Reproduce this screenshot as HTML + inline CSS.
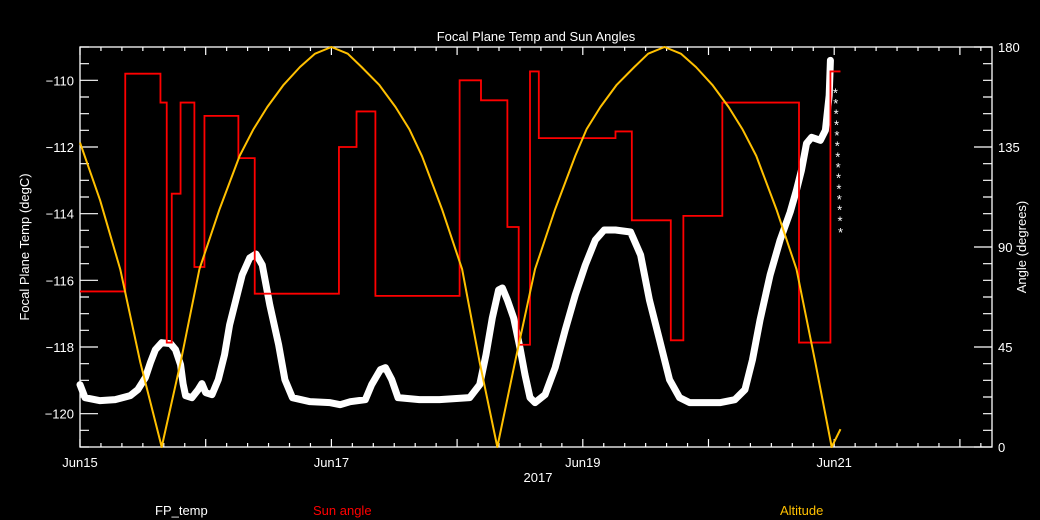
<!DOCTYPE html>
<html><head><meta charset="utf-8">
<style>
html,body{margin:0;padding:0;background:#000;}
svg{display:block;}
text{font-family:"Liberation Sans","DejaVu Sans",sans-serif;font-size:13px;}
</style></head>
<body>
<svg id="chart" width="1040" height="520" viewBox="0 0 1040 520" xmlns="http://www.w3.org/2000/svg">
<rect x="0" y="0" width="1040" height="520" fill="#000"/>
<text x="536" y="41" fill="#fff" text-anchor="middle">Focal Plane Temp and Sun Angles</text>
<text transform="translate(29,247) rotate(-90)" fill="#fff" text-anchor="middle">Focal Plane Temp (degC)</text>
<text transform="translate(1026,247) rotate(-90)" fill="#fff" text-anchor="middle">Angle (degrees)</text>
<text x="538" y="482" fill="#fff" text-anchor="middle">2017</text>
<text x="155" y="515" fill="#fff">FP_temp</text>
<text x="313" y="515" fill="#ff0000">Sun angle</text>
<text x="780" y="515" fill="#ffc000">Altitude</text>
<g id="axes"></g>
<g id="series"></g>
</svg>
<script>
// ---- data ----
const xTickLabels = ["Jun15","Jun17","Jun19","Jun21"];
const xTickDays = [0,2,4,6];
const leftTicks = [-120,-118,-116,-114,-112,-110];
const rightTicks = [0,45,90,135,180];
const altDays = [0,0.16,0.32,0.48,0.65,0.80,0.95,1.11,1.27,1.38,1.49,1.62,1.75,1.87,2.0,2.13,2.24,2.38,2.51,2.62,2.72,2.88,3.04,3.18,3.32,3.46,3.62,3.78,3.94,4.03,4.14,4.27,4.41,4.52,4.65,4.78,4.90,5.03,5.16,5.27,5.38,5.54,5.70,5.85,5.98,6.05];
const altValues = [137,111,80,38,0,38,80,107,131,143,153,163,171,177,180,177,171,163,153,143,131,107,80,38,0,38,80,107,131,143,153,163,171,177,180,177,171,163,153,143,131,107,80,38,0,8];
const sunDays = [0,0.36,0.64,0.69,0.73,0.80,0.91,0.99,1.26,1.39,2.06,2.20,2.35,3.02,3.19,3.40,3.49,3.58,3.65,4.26,4.39,4.70,4.80,5.11,5.72,5.97,6.05];
const sunValues = [70,168,155,47,114,155,81,149,130,69,135,151,68,165,156,99,46,169,139,142,102,48,104,155,47,169,169];
const tempDays = [0,0.04,0.16,0.28,0.40,0.46,0.52,0.56,0.60,0.65,0.72,0.76,0.80,0.82,0.84,0.89,0.94,0.97,1.00,1.05,1.10,1.15,1.19,1.24,1.29,1.35,1.40,1.45,1.51,1.58,1.63,1.69,1.83,1.99,2.07,2.15,2.27,2.32,2.39,2.43,2.48,2.53,2.70,2.86,3.10,3.18,3.23,3.28,3.33,3.36,3.40,3.45,3.50,3.54,3.58,3.62,3.70,3.78,3.86,3.94,4.02,4.10,4.17,4.26,4.38,4.46,4.53,4.61,4.69,4.77,4.85,5.09,5.21,5.29,5.35,5.41,5.49,5.57,5.65,5.70,5.74,5.78,5.82,5.89,5.93,5.96,5.97];
const tempValues = [-119.13,-119.52,-119.61,-119.58,-119.46,-119.28,-118.92,-118.47,-118.08,-117.87,-117.90,-118.08,-118.53,-119.10,-119.46,-119.52,-119.28,-119.10,-119.37,-119.43,-118.98,-118.23,-117.34,-116.59,-115.84,-115.33,-115.21,-115.54,-116.74,-117.93,-118.98,-119.52,-119.64,-119.67,-119.73,-119.64,-119.58,-119.13,-118.68,-118.62,-118.98,-119.52,-119.58,-119.58,-119.52,-119.13,-118.23,-117.13,-116.29,-116.23,-116.59,-117.13,-118.02,-118.83,-119.52,-119.67,-119.43,-118.62,-117.49,-116.44,-115.54,-114.79,-114.49,-114.49,-114.55,-115.24,-116.59,-117.78,-118.98,-119.52,-119.67,-119.67,-119.58,-119.28,-118.38,-117.19,-115.84,-114.79,-113.95,-113.29,-112.69,-111.89,-111.71,-111.80,-111.50,-110.45,-109.40];
const starDays = [6.01,6.013,6.016,6.019,6.022,6.025,6.028,6.031,6.034,6.037,6.04,6.043,6.046,6.05];
const starTemps = [-110.36,-110.68,-111.0,-111.32,-111.64,-111.96,-112.28,-112.6,-112.92,-113.24,-113.56,-113.88,-114.2,-114.55];

// ---- axes ----
const X0=80,X1=992,Y0=47,Y1=447,DAYSPAN=(992-80)/125.7;
const sx=d=>X0+d*(X1-X0)/DAYSPAN;
const syL=t=>Y1-(t+121)*(Y1-Y0)/12;
const syR=a=>Y1-a*(Y1-Y0)/180;
const NS="http://www.w3.org/2000/svg";
const axes=document.getElementById('axes'), series=document.getElementById('series');
function mk(tag,attrs,parent){const e=document.createElementNS(NS,tag);for(const k in attrs)e.setAttribute(k,attrs[k]);parent.appendChild(e);return e;}
const frame=mk('rect',{x:X0,y:Y0,width:X1-X0,height:Y1-Y0,fill:'none',stroke:'#fff','stroke-width':1.3},axes);


let tp='';
for(let h=0;h*4/24<=DAYSPAN;h++){const d=h*4/24;const x=sx(d);const L=(h%6===0)?8:4;tp+=`M${x},${Y1}v${-L}M${x},${Y0}v${L}`;}
for(let t=-121;t<=-109;t+=0.5){const y=syL(t);const L=(Math.abs(t%2)===0)?18:9;tp+=`M${X0},${y}h${L}`;}
for(let a=0;a<=180;a+=7.5){const y=syR(a);const L=(a%45===0)?18:9;tp+=`M${X1},${y}h${-L}`;}
const ticks=mk('path',{d:tp,stroke:'#fff','stroke-width':1.2,fill:'none'},axes);


xTickLabels.forEach((s,i)=>{const t=mk('text',{x:sx(xTickDays[i]),y:467,fill:'#fff','text-anchor':'middle'},axes);t.textContent=s;

});
leftTicks.forEach(v=>{const t=mk('text',{x:74,y:syL(v)+5,fill:'#fff','text-anchor':'end'},axes);t.textContent=String(v).replace('-','\u2212');

});
rightTicks.forEach(v=>{const t=mk('text',{x:998,y:syR(v)+5,fill:'#fff'},axes);t.textContent=v;

});

// ---- series ----
const tp2=tempDays.map((d,i)=>`${sx(d)},${syL(tempValues[i])}`).join(' ');
const temp=mk('polyline',{points:tp2,fill:'none',stroke:'#fff','stroke-width':7,'stroke-linejoin':'round','stroke-linecap':'round'},series);


starDays.forEach((d,i)=>{const s=mk('text',{x:sx(d),y:syL(starTemps[i])+5,fill:'#fff','text-anchor':'middle','font-size':'11'},series);s.textContent='*';

});
let sp=`M${sx(sunDays[0])},${syR(sunValues[0])}`;
for(let i=1;i<sunDays.length;i++){sp+=`H${sx(sunDays[i])}V${syR(sunValues[i])}`;}
const sun=mk('path',{d:sp,fill:'none',stroke:'#ff0000','stroke-width':1.8},series);


const ap=altDays.map((d,i)=>`${sx(d)},${syR(altValues[i])}`).join(' ');
const alt=mk('polyline',{points:ap,fill:'none',stroke:'#ffc000','stroke-width':2,'stroke-linejoin':'round'},series);


</script>
</body></html>
